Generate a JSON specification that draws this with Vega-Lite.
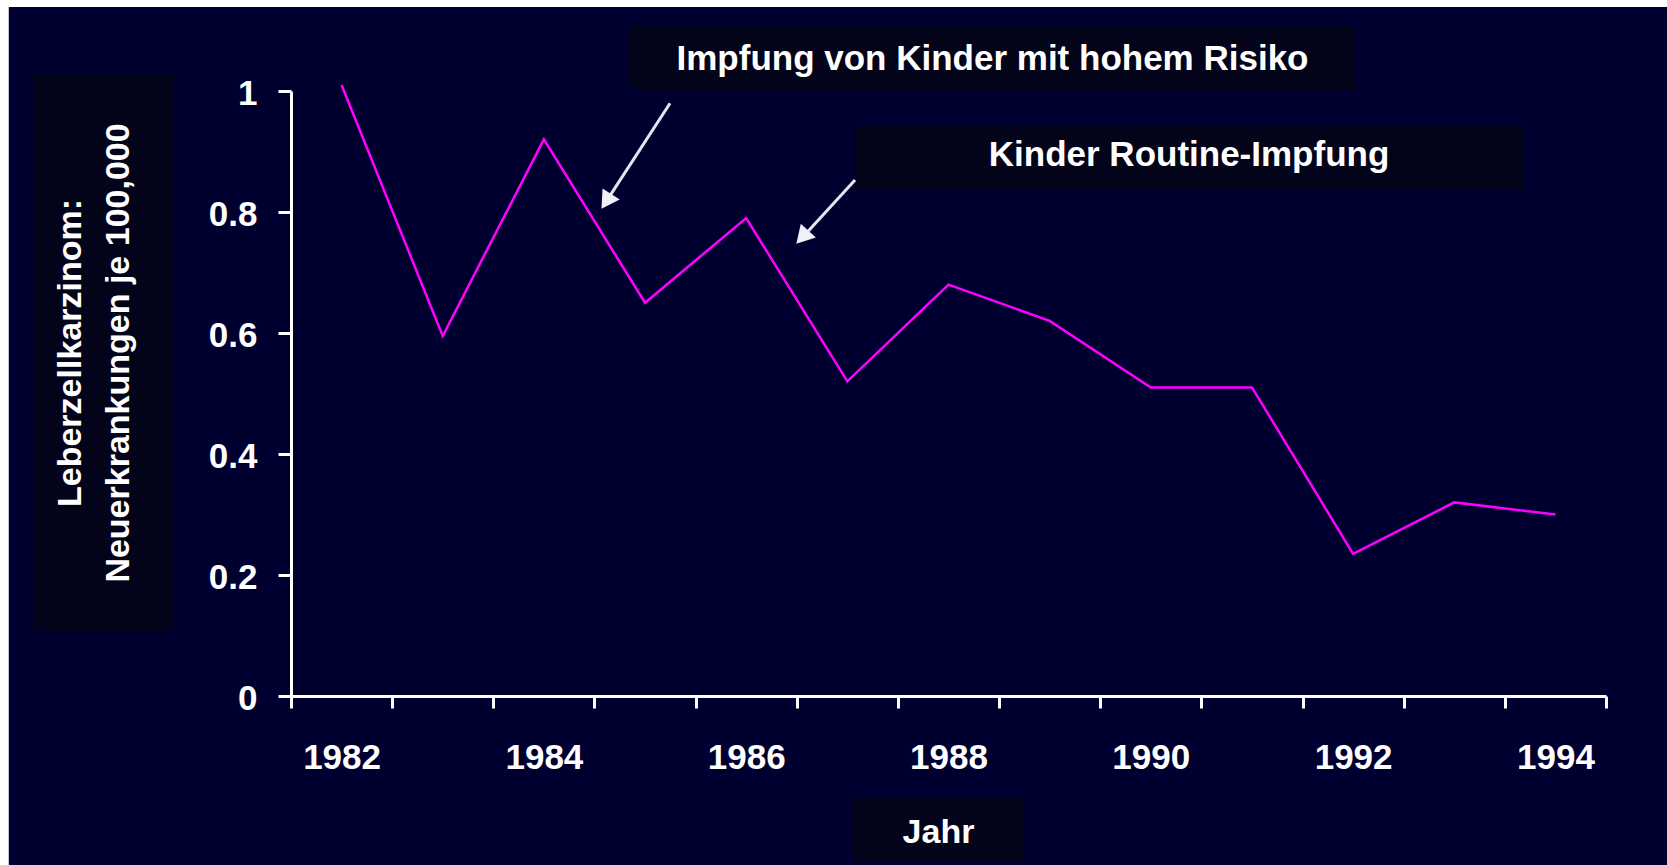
{
  "$schema": "https://vega.github.io/schema/vega-lite/v6.json",
  "width": 1315,
  "height": 605,
  "autosize": {"type": "none"},
  "padding": {"left": 291, "top": 91, "right": 61, "bottom": 169},
  "background": "white",
  "config": {"view": {"stroke": null}, "font": "Liberation Sans"},
  "datasets": {
    "hcc": [
      {"year": 1982, "rate": 1.01},
      {"year": 1983, "rate": 0.595},
      {"year": 1984, "rate": 0.92},
      {"year": 1985, "rate": 0.65},
      {"year": 1986, "rate": 0.79},
      {"year": 1987, "rate": 0.52},
      {"year": 1988, "rate": 0.68},
      {"year": 1989, "rate": 0.62},
      {"year": 1990, "rate": 0.51},
      {"year": 1991, "rate": 0.51},
      {"year": 1992, "rate": 0.235},
      {"year": 1993, "rate": 0.32},
      {"year": 1994, "rate": 0.30}
    ]
  },
  "layer": [
    {
      "data": {"values": [{"part": "background"}]},
      "mark": {"type": "rect", "color": "#000030"},
      "encoding": {
        "x": {"datum": 1978.71},
        "x2": {"datum": 1995.4},
        "y": {"datum": 1.1388},
        "y2": {"datum": -0.35}
      }
    },
    {
      "data": {"values": [{"part": "y title box"}]},
      "mark": {"type": "rect", "color": "#03031a"},
      "encoding": {
        "x": {"datum": 1978.949},
        "x2": {"datum": 1980.333},
        "y": {"datum": 1.0298},
        "y2": {"datum": 0.1058}
      }
    },
    {
      "data": {"values": [{"part": "x title box"}]},
      "mark": {"type": "rect", "color": "#03031a"},
      "encoding": {
        "x": {"datum": 1987.056},
        "x2": {"datum": 1988.737},
        "y": {"datum": -0.1669},
        "y2": {"datum": -0.2744}
      }
    },
    {
      "data": {"values": [{"part": "note box 1"}]},
      "mark": {"type": "rect", "color": "#03031a"},
      "encoding": {
        "x": {"datum": 1984.841},
        "x2": {"datum": 1992.029},
        "y": {"datum": 1.1074},
        "y2": {"datum": 1.0033}
      }
    },
    {
      "data": {"values": [{"part": "note box 2"}]},
      "mark": {"type": "rect", "color": "#03031a"},
      "encoding": {
        "x": {"datum": 1987.086},
        "x2": {"datum": 1993.68},
        "y": {"datum": 0.9438},
        "y2": {"datum": 0.838}
      }
    },
    {
      "data": {"name": "hcc"},
      "mark": {"type": "line", "color": "#ff00ff", "strokeWidth": 2.5},
      "encoding": {
        "x": {
          "field": "year",
          "type": "quantitative",
          "scale": {"domain": [1981.5, 1994.5], "nice": false, "zero": false},
          "axis": {
            "values": [1981.5, 1982.5, 1983.5, 1984.5, 1985.5, 1986.5, 1987.5, 1988.5, 1989.5, 1990.5, 1991.5, 1992.5, 1993.5, 1994.5],
            "labelExpr": "(datum.value + 0.5) % 2 == 0 ? '' + (datum.value + 0.5) : ''",
            "labelOffset": 50.58,
            "labelFlush": false,
            "labelOverlap": false,
            "labelBound": false,
            "labelAlign": "center",
            "labelBaseline": "alphabetic",
            "labelPadding": 60,
            "labelFont": "Liberation Sans",
            "labelFontSize": 35,
            "labelFontWeight": "bold",
            "labelColor": "white",
            "tickSize": 12,
            "tickWidth": 3,
            "tickColor": "white",
            "domainColor": "white",
            "domainWidth": 3,
            "grid": false,
            "title": "Jahr",
            "titleX": 647,
            "titleY": 146,
            "titleAlign": "center",
            "titleBaseline": "alphabetic",
            "titleFont": "Liberation Sans",
            "titleFontSize": 34,
            "titleFontWeight": "bold",
            "titleColor": "white",
            "zindex": 1
          }
        },
        "y": {
          "field": "rate",
          "type": "quantitative",
          "scale": {"domain": [0, 1], "nice": false, "zero": true},
          "axis": {
            "values": [0, 0.2, 0.4, 0.6, 0.8, 1],
            "format": ".1~f",
            "labelFlush": false,
            "labelOverlap": false,
            "labelBound": false,
            "labelAlign": "right",
            "labelBaseline": "alphabetic",
            "labelOffset": 13,
            "labelPadding": 21,
            "labelFont": "Liberation Sans",
            "labelFontSize": 35,
            "labelFontWeight": "bold",
            "labelColor": "white",
            "tickSize": 13,
            "tickWidth": 3,
            "tickColor": "white",
            "domainColor": "white",
            "domainWidth": 3,
            "grid": false,
            "title": ["Leberzellkarzinom:", "Neuerkrankungen je 100,000"],
            "titleAngle": 270,
            "titleX": -211,
            "titleY": 261.5,
            "titleAlign": "center",
            "titleBaseline": "alphabetic",
            "titleLineHeight": 48,
            "titleFont": "Liberation Sans",
            "titleFontSize": 34,
            "titleFontWeight": "bold",
            "titleColor": "white",
            "zindex": 1
          }
        }
      }
    },
    {
      "data": {"values": [{"part": "arrow 1"}]},
      "mark": {"type": "rule", "color": "#e6e6f0", "strokeWidth": 3},
      "encoding": {
        "x": {"datum": 1985.247},
        "y": {"datum": 0.9797},
        "x2": {"datum": 1984.62},
        "y2": {"datum": 0.8185}
      }
    },
    {
      "data": {"values": [{"part": "arrow 2"}]},
      "mark": {"type": "rule", "color": "#e6e6f0", "strokeWidth": 3},
      "encoding": {
        "x": {"datum": 1987.076},
        "y": {"datum": 0.8529},
        "x2": {"datum": 1986.56},
        "y2": {"datum": 0.7588}
      }
    },
    {
      "data": {"values": [{"part": "arrow head 1"}]},
      "mark": {"type": "point", "shape": "triangle-up", "filled": true, "color": "#f0f0f8", "opacity": 1, "size": 420, "angle": 213},
      "encoding": {
        "x": {"datum": 1984.617},
        "y": {"datum": 0.8175}
      }
    },
    {
      "data": {"values": [{"part": "arrow head 2"}]},
      "mark": {"type": "point", "shape": "triangle-up", "filled": true, "color": "#f0f0f8", "opacity": 1, "size": 420, "angle": 222.6},
      "encoding": {
        "x": {"datum": 1986.555},
        "y": {"datum": 0.7585}
      }
    },
    {
      "data": {"values": [{"label": "Impfung von Kinder mit hohem Risiko"}]},
      "mark": {"type": "text", "align": "center", "baseline": "alphabetic", "font": "Liberation Sans", "fontSize": 35, "fontWeight": "bold", "color": "white"},
      "encoding": {
        "x": {"datum": 1988.435},
        "y": {"datum": 1.0347},
        "text": {"field": "label"}
      }
    },
    {
      "data": {"values": [{"label": "Kinder Routine-Impfung"}]},
      "mark": {"type": "text", "align": "center", "baseline": "alphabetic", "font": "Liberation Sans", "fontSize": 35, "fontWeight": "bold", "color": "white"},
      "encoding": {
        "x": {"datum": 1990.378},
        "y": {"datum": 0.876},
        "text": {"field": "label"}
      }
    }
  ]
}
